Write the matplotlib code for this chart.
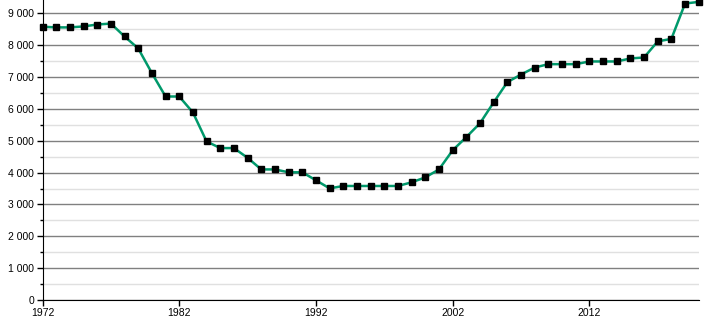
import matplotlib
matplotlib.use("Agg")
import matplotlib.pyplot as plt
from matplotlib.ticker import MultipleLocator, FuncFormatter

years = list(range(1972, 2021))
values = [8580, 8560, 8560, 8590, 8650, 8680, 8275, 7900, 7125, 6390,
          6390, 5890, 4980, 4770, 4770, 4465, 4100, 4100, 4010, 4010,
          3760, 3505, 3580, 3580, 3580, 3580, 3580, 3695, 3850, 4100,
          4700, 5115, 5550, 6205, 6840, 7080, 7300, 7405, 7405, 7405,
          7490, 7490, 7490, 7585, 7615, 8120, 8200, 9310, 9360]
xticks = [1972, 1982, 1992, 2002, 2012]

plt.rcParams['font.family'] = ['Liberation Sans', 'DejaVu Sans']

fig = plt.figure(figsize=(7.1, 3.2), dpi=100)
ax = fig.add_axes([42.5/710, 20/320, (699-42.5)/710, 300/320])

ax.plot(years, values, color="#00996b", lw=1.8, zorder=3, clip_on=False)
ax.plot(years, values, ls="none", marker="s", ms=4, color="black", zorder=4, clip_on=False)

ax.set_xlim(1972, 2020.02)
ax.set_ylim(0, 9420)
ax.yaxis.set_major_locator(MultipleLocator(1000))
ax.yaxis.set_minor_locator(MultipleLocator(500))
ax.set_xticks(xticks)
ax.yaxis.set_major_formatter(FuncFormatter(lambda v, p: f"{int(v):,}".replace(",", " ")))

ax.grid(which="major", axis="y", color="#808080", lw=1)
ax.grid(which="minor", axis="y", color="#e0e0e0", lw=1)
ax.set_axisbelow(True)

for s in ["top", "right"]:
    ax.spines[s].set_visible(False)
ax.spines["left"].set_color("black")
ax.spines["bottom"].set_color("black")
ax.tick_params(axis="both", which="major", length=4, width=1, labelsize=7.5, colors="black", pad=2)
ax.tick_params(axis="y", which="minor", length=2, width=1)
ax.tick_params(axis="x", which="minor", length=0)

fig.savefig("out.png", dpi=100)
